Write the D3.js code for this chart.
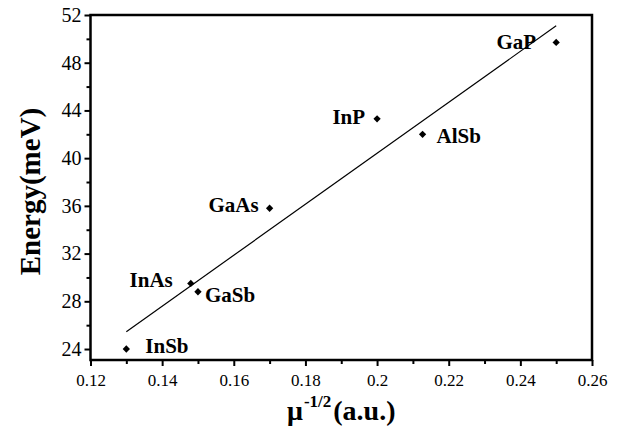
<!DOCTYPE html>
<html>
<head>
<meta charset="utf-8">
<script src="https://cdn.jsdelivr.net/npm/d3@7"></script>
<style>
  body { margin: 0; background: #fff; }
  svg { display: block; }
  svg text { font-family: "Liberation Serif", "Times New Roman", Tinos, serif !important; }
</style>
</head>
<body>
<div id="chart"></div>
<script>
// data
const materials = ["InSb", "InAs", "GaSb", "GaAs", "InP", "AlSb", "GaP"];
const muValues = [0.13, 0.148, 0.15, 0.17, 0.2, 0.2127, 0.25];
const energyValues = [24.0, 29.5, 28.8, 35.8, 43.3, 42.0, 49.7];
const xTicks = [0.12, 0.14, 0.16, 0.18, 0.2, 0.22, 0.24, 0.26];
const yTicks = [24, 28, 32, 36, 40, 44, 48, 52];

const serif = "'Liberation Serif', 'Times New Roman', serif";

// label offsets relative to the point (dx, dy, anchor)
const labelPos = {
  InSb: [19, 4, "start"],
  InAs: [-18, 4, "end"],
  GaSb: [7, 10, "start"],
  GaAs: [-11, 4, "end"],
  InP: [-12, 5, "end"],
  AlSb: [14, 9, "start"],
  GaP: [-20, 7, "end"]
};

const width = 623, height = 432;
const margin = { top: 15, right: 31, bottom: 72, left: 90.5 };
const innerW = width - margin.left - margin.right;
const innerH = height - margin.top - margin.bottom;

const x = d3.scaleLinear().domain([0.12, 0.26]).range([0, innerW]);
const y = d3.scaleLinear().domain([23.08, 52]).range([innerH, 0]);

const svg = d3.select("#chart").append("svg")
  .attr("width", width).attr("height", height)
  .style("font-family", serif);
const g = svg.append("g").attr("transform", `translate(${margin.left},${margin.top})`);

// minor ticks
g.append("g").attr("class", "minor")
  .attr("transform", `translate(0,${innerH})`)
  .call(d3.axisBottom(x).tickValues(d3.range(0.13, 0.26, 0.02)).tickSize(4).tickFormat(""));
g.append("g").attr("class", "minor")
  .call(d3.axisLeft(y).tickValues(d3.range(26, 52, 4)).tickSize(4).tickFormat(""));

// major ticks
g.append("g").attr("class", "x-axis")
  .attr("transform", `translate(0,${innerH})`)
  .call(d3.axisBottom(x).tickValues(xTicks).tickSize(6).tickPadding(8)
    .tickFormat(d => String(+d.toFixed(2))))
  .selectAll("text")
  .style("font-size", "17px");

g.append("g").attr("class", "y-axis")
  .call(d3.axisLeft(y).tickValues(yTicks).tickSize(6).tickPadding(3))
  .selectAll("text")
  .style("font-size", "20px");

g.selectAll(".domain").remove();
g.selectAll(".x-axis, .y-axis").attr("font-family", null);
g.selectAll(".tick line").attr("stroke", "#000").attr("stroke-width", 2);
g.selectAll(".tick text").attr("fill", "#000").style("font-family", serif);

// frame
g.append("rect")
  .attr("width", innerW).attr("height", innerH)
  .attr("fill", "none").attr("stroke", "#000").attr("stroke-width", 2.5);

// linear fit
const pts = materials.map((m, i) => ({ name: m, x: muValues[i], y: energyValues[i] }));
const mx = d3.mean(pts, d => d.x), my = d3.mean(pts, d => d.y);
const slope = d3.sum(pts, d => (d.x - mx) * (d.y - my)) / d3.sum(pts, d => (d.x - mx) ** 2);
const fit = v => my + slope * (v - mx);
const [x0, x1] = d3.extent(muValues);
g.append("line")
  .attr("x1", x(x0)).attr("y1", y(fit(x0)))
  .attr("x2", x(x1)).attr("y2", y(fit(x1)))
  .attr("stroke", "#000").attr("stroke-width", 1.2);

// points
g.selectAll(".pt").data(pts).join("path")
  .attr("class", "pt")
  .attr("d", d3.symbol(d3.symbolDiamond2, 34))
  .attr("transform", d => `translate(${x(d.x)},${y(d.y)})`)
  .attr("fill", "#000");

g.selectAll(".lbl").data(pts).join("text")
  .attr("class", "lbl")
  .attr("x", d => x(d.x) + labelPos[d.name][0])
  .attr("y", d => y(d.y) + labelPos[d.name][1])
  .attr("text-anchor", d => labelPos[d.name][2])
  .style("font-family", serif)
  .style("font-size", "21px").style("font-weight", "bold")
  .text(d => d.name);

// axis titles
svg.append("text")
  .attr("transform", `translate(40,${margin.top + innerH / 2 + 4}) rotate(-90)`)
  .attr("text-anchor", "middle")
  .style("font-family", serif)
  .style("font-size", "29px").style("font-weight", "bold")
  .text("Energy(meV)");

const xt = svg.append("text")
  .attr("x", 287).attr("y", 420)
  .style("font-family", serif)
  .style("font-size", "28px").style("font-weight", "bold");
xt.append("tspan").text("\u03bc");
xt.append("tspan").style("font-size", "17px").attr("dy", -13).attr("dx", 1).text("-1/2");
xt.append("tspan").attr("dy", 13).attr("dx", 2).text("(a.u.)");
</script>
</body>
</html>
